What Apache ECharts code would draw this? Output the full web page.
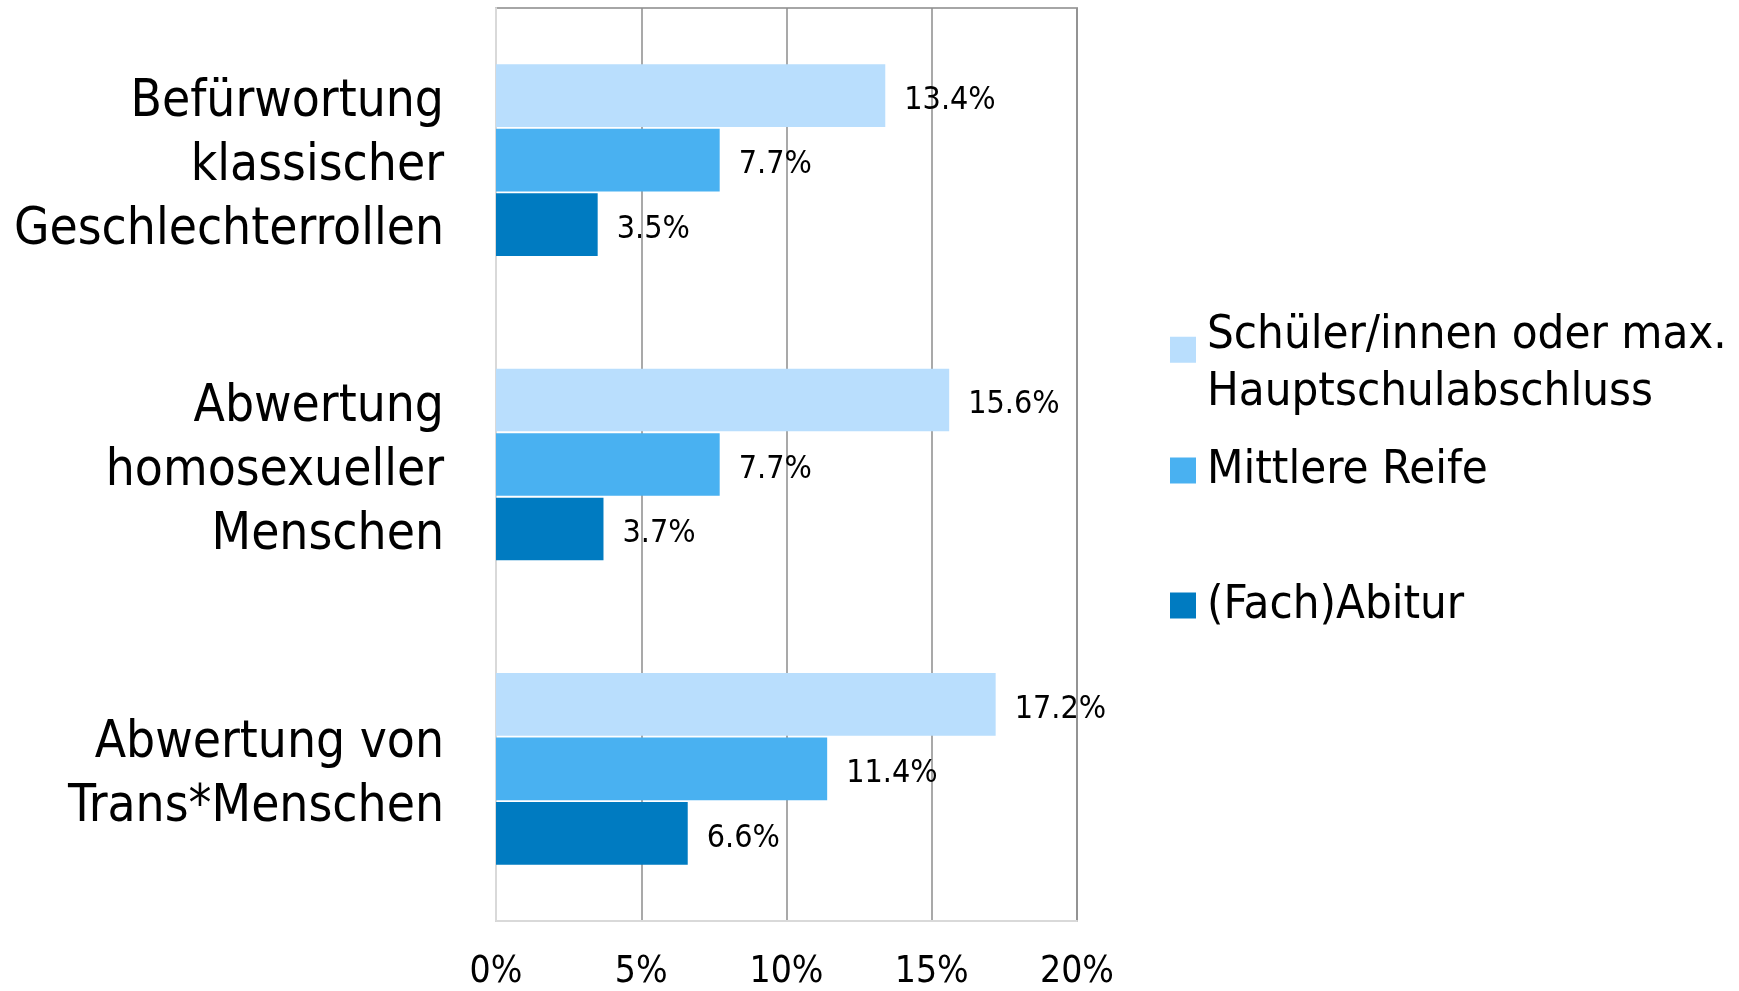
<!DOCTYPE html>
<html>
<head>
<meta charset="utf-8">
<script src="https://cdn.jsdelivr.net/npm/echarts@6/dist/echarts.min.js"></script>
<style>html,body{margin:0;padding:0;background:#fff}#c{width:1739px;height:991px}</style>
</head>
<body>
<div id="c"></div>
<script>
const categories = ['Befürwortung\nklassischer\nGeschlechterrollen', 'Abwertung\nhomosexueller\nMenschen', 'Abwertung von\nTrans*Menschen'];
const seriesNames = ['Schüler/innen oder max. Hauptschulabschluss', 'Mittlere Reife', '(Fach)Abitur'];
const schueler = [13.4, 15.6, 17.2];
const mittlereReife = [7.7, 7.7, 11.4];
const abitur = [3.5, 3.7, 6.6];
const tickValues = [0, 5, 10, 15, 20];
const colors = ['#b9defd', '#49b1f1', '#007bc1'];

const FONT = '"DejaVu Sans Condensed", "DejaVu Sans", Verdana, sans-serif';
const chart = echarts.init(document.getElementById('c'), null, {renderer: 'canvas'});

const seriesData = [schueler, mittlereReife, abitur];
const series = seriesData.map((d, i) => ({
  name: seriesNames[i],
  type: 'bar',
  data: d,
  barGap: '3%',
  barCategoryGap: '37%',
  itemStyle: {color: colors[i]},
  label: {
    show: true, position: 'right', distance: 19, offset: [0, 5],
    formatter: p => p.value.toFixed(1) + '%',
    fontFamily: FONT, fontSize: 32, color: '#000'
  },
  z: 3
}));

const legendPos = [
  {top: 307, icon: 'path://M0,0h10v10h-10z M0,21h0.01v0.01h-0.01z', itemHeight: 55, formatter: 'Schüler/innen oder max.\nHauptschulabschluss'},
  {top: 442, icon: 'rect', itemHeight: 26},
  {top: 577, icon: 'rect', itemHeight: 26}
];
const legend = legendPos.map((l, i) => ({
  data: [seriesNames[i]],
  left: 1170,
  top: l.top,
  icon: l.icon,
  itemWidth: 26,
  itemHeight: l.itemHeight,
  itemGap: 0,
  padding: 0,
  selectedMode: false,
  formatter: l.formatter ? (() => l.formatter) : undefined,
  textStyle: {fontFamily: FONT, fontSize: 47, lineHeight: 57, color: '#000', padding: [0, 0, 0, 6]}
}));

chart.setOption({
  backgroundColor: '#fff',
  animation: false,
  color: colors,
  grid: {left: 496, right: 662, top: 8, bottom: 67, show: true, borderColor: '#a6a6a6', borderWidth: 2, containLabel: false},
  legend: legend,
  xAxis: {
    type: 'value', min: tickValues[0], max: tickValues[tickValues.length - 1], interval: 5,
    axisLine: {show: true, lineStyle: {color: '#d9d9d9', width: 2}},
    axisTick: {show: false},
    splitLine: {show: true, lineStyle: {color: '#8c8c8c', width: 1.5}},
    axisLabel: {formatter: v => v + '%', fontFamily: FONT, fontSize: 37, color: '#000', margin: 33}
  },
  yAxis: {
    type: 'category', data: categories, inverse: true,
    axisLine: {show: true, lineStyle: {color: '#d9d9d9', width: 2}},
    axisTick: {show: false},
    axisLabel: {
      fontFamily: FONT, color: '#000', margin: 52, align: 'right',
      formatter: v => '{a|' + v.split('\n').join('}\n{a|') + '}',
      rich: {a: {fontFamily: FONT, fontSize: 51, lineHeight: 64, color: '#000', align: 'right', padding: [14, 0, 0, 0]}}
    }
  },
  series: series
});
</script>
</body>
</html>
